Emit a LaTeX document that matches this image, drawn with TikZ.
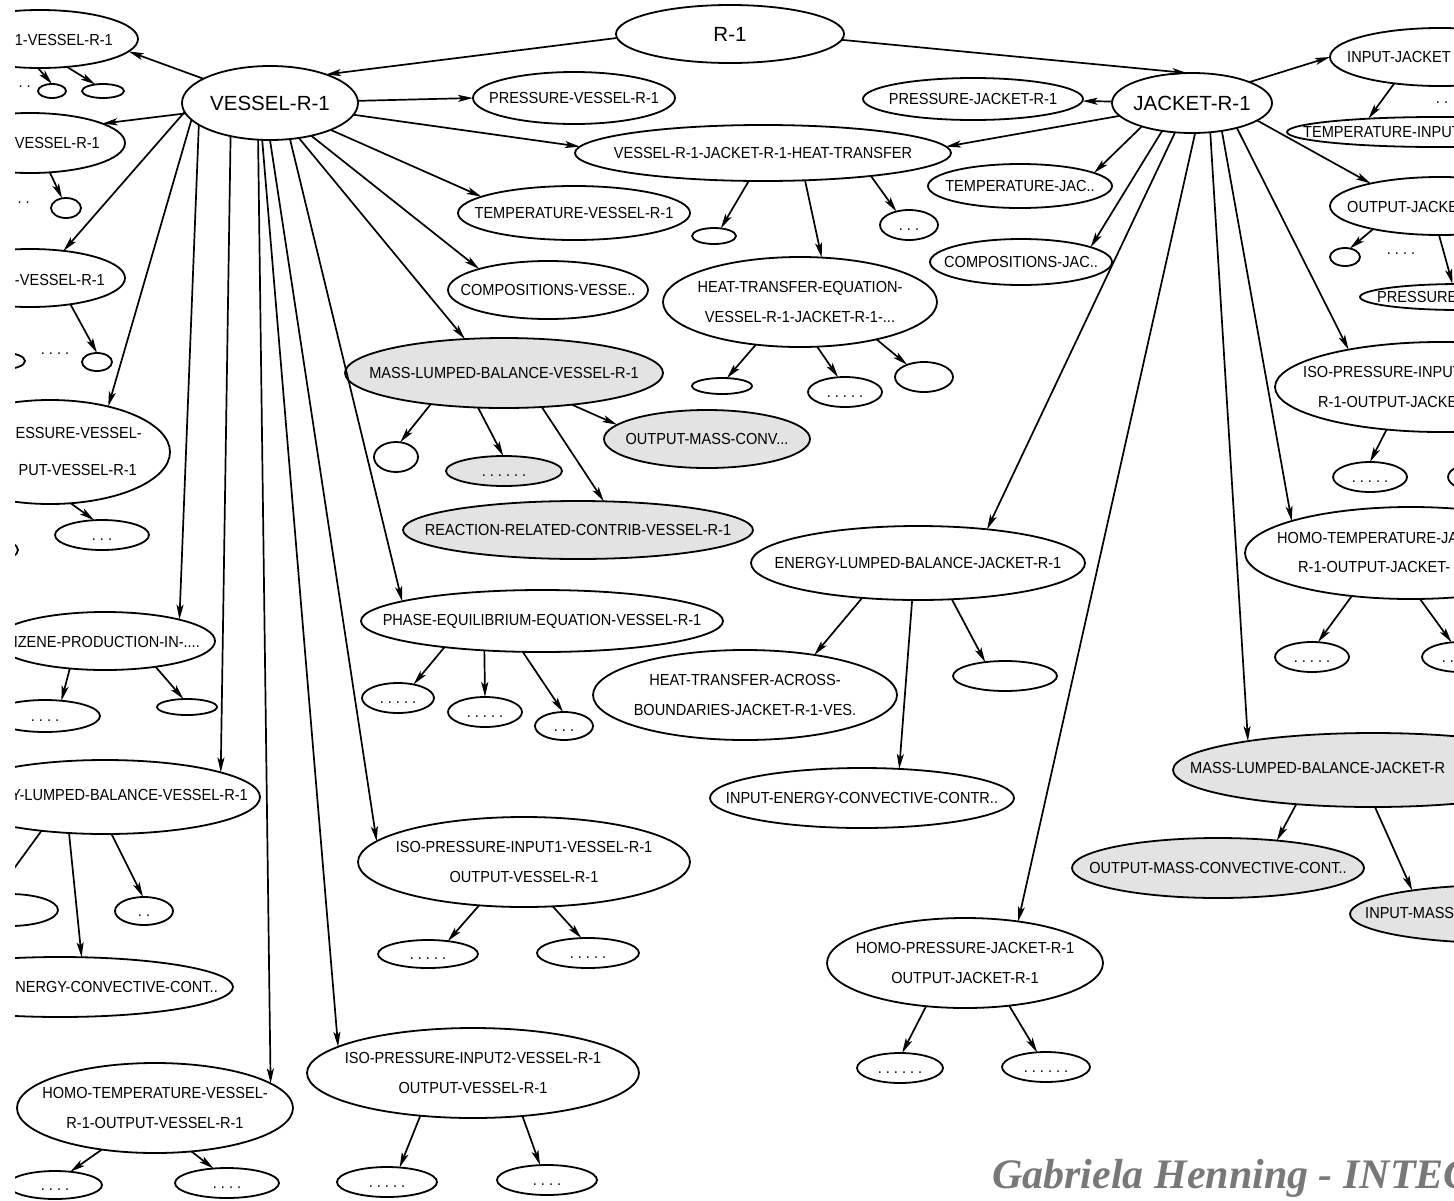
\documentclass[tikz,border=0pt]{standalone}
\usepackage{fontspec}
\setmainfont{Liberation Sans}[FakeStretch=0.91]
\newfontfamily\hdfamily{Liberation Sans}
\newfontfamily\creditfont{Liberation Serif}
\usetikzlibrary{shapes.geometric,arrows.meta}
\newcommand\lblfont{\fontsize{16pt}{30pt}\selectfont}
\newcommand\hdfont{\hdfamily\fontsize{20.5pt}{24pt}\selectfont}
\definecolor{dotgray}{gray}{0.89}
\definecolor{creditgray}{gray}{0.47}
\frenchspacing
\begin{document}
\begin{tikzpicture}[x=1pt,y=-1pt,
  ov/.style={ellipse, draw=black, line width=1.8pt, inner sep=0pt, outer sep=0pt, fill=white},
  dotfill/.style={fill=dotgray},
  sz/.style 2 args={minimum width=#1pt, minimum height=#2pt},
  lbl/.style={font=\lblfont, inner sep=0pt, align=center},
  hd/.style={font=\hdfont, inner sep=0pt},
  arr/.style={line width=1.7pt, -{Stealth[length=15pt, width=7pt, inset=3.5pt]}}]
\fill[white] (0,0) rectangle (1454,1200);
\useasboundingbox (0,0) rectangle (1454,1200);
\clip (15,0) rectangle (1454,1200);

% ---------- root and the two units ----------
\node[ov,sz={228}{58}] (R1) at (730,34) {};
\node[hd] (R1t) at (R1) {R-1};
\node[ov,sz={176}{74}] (V) at (270,103) {};
\node[hd] (Vt) at (V) {VESSEL-R-1};
\node[ov,sz={160}{60}] (J) at (1192,103) {};
\node[hd] (Jt) at (J) {JACKET-R-1};

% ---------- vessel: left column ----------
\node[ov,sz={196}{58}] (A) at (40,39) {};
\node[lbl,anchor=east] (At) at (113,40) {1-VESSEL-R-1};
\node[ov,sz={28}{14}] (a1) at (52,91) {};
\node[ov,sz={42}{14}] (a2) at (103,91) {};
\node[lbl,anchor=east] (adots) at (31,87) {. .};
\node[ov,sz={190}{60}] (B) at (30,143) {};
\node[lbl,anchor=east] (Bt) at (100,143) {VESSEL-R-1};
\node[ov,sz={30}{20}] (b1) at (66,208) {};
\node[lbl,anchor=east] (bdots) at (30,203) {. .};
\node[ov,sz={190}{58}] (C) at (30,278) {};
\node[lbl,anchor=east] (Ct) at (105,280) {-VESSEL-R-1};
\node[ov,sz={40}{16}] (c0) at (5,361) {};
\node[lbl] (cdots) at (55,354) {. . . .};
\node[ov,sz={30}{18}] (c1) at (97,362) {};
\node[ov,sz={240}{104}] (D) at (50,452) {};
\node[lbl,anchor=east] (Dt1) at (142,433) {RESSURE-VESSEL-};
\node[lbl,anchor=east] (Dt2) at (137,470) {PUT-VESSEL-R-1};
\node[ov,sz={36}{18}] (d0) at (0,550) {};
\node[ov,sz={94}{30}] (d1) at (102,535) {};
\node[lbl] (d1t) at (d1) {\vphantom{A}. . .};
\node[ov,sz={220}{58}] (E) at (105,641) {};
\node[lbl,anchor=east] (Et) at (200,642) {IZENE-PRODUCTION-IN-....};
\node[ov,sz={110}{32}] (e1) at (45,716) {};
\node[lbl] (e1t) at (e1) {\vphantom{A}. . . .};
\node[ov,sz={60}{16}] (e2) at (187,707) {};
\node[ov,sz={310}{74}] (F) at (105,797) {};
\node[lbl,anchor=east] (Ft) at (248,795) {Y-LUMPED-BALANCE-VESSEL-R-1};
\node[ov,sz={96}{32}] (f0) at (10,910) {};
\node[ov,sz={58}{28}] (f1) at (144,911) {};
\node[lbl] (f1t) at (f1) {\vphantom{A}. .};
\node[ov,sz={346}{60}] (G) at (60,987) {};
\node[lbl,anchor=east] (Gt) at (218,987) {ENERGY-CONVECTIVE-CONT..};
\node[ov,sz={276}{90}] (H) at (155,1108) {};
\node[lbl] (Ht) at (H) {HOMO-TEMPERATURE-VESSEL-\\R-1-OUTPUT-VESSEL-R-1};
\node[ov,sz={94}{28}] (h1) at (55,1185) {};
\node[lbl] (h1t) at (h1) {\vphantom{A}. . . .};
\node[ov,sz={104}{30}] (h2) at (227,1183) {};
\node[lbl] (h2t) at (h2) {\vphantom{A}. . . .};

% ---------- vessel: middle ----------
\node[ov,sz={202}{52}] (PV) at (574,98) {};
\node[lbl] (PVt) at (PV) {PRESSURE-VESSEL-R-1};
\node[ov,sz={376}{56}] (HT) at (763,153) {};
\node[lbl] (HTt) at (HT) {VESSEL-R-1-JACKET-R-1-HEAT-TRANSFER};
\node[ov,sz={232}{54}] (TV) at (574,213) {};
\node[lbl] (TVt) at (TV) {TEMPERATURE-VESSEL-R-1};
\node[ov,sz={200}{58}] (CV) at (548,290) {};
\node[lbl] (CVt) at (CV) {COMPOSITIONS-VESSE..};
\node[ov,sz={44}{16}] (ht1) at (714,236) {};
\node[ov,sz={58}{30}] (ht2) at (909,225) {};
\node[lbl] (ht2t) at (ht2) {\vphantom{A}. . .};
\node[ov,sz={274}{90}] (HE) at (800,302) {};
\node[lbl] (HEt) at (HE) {HEAT-TRANSFER-EQUATION-\\VESSEL-R-1-JACKET-R-1-...};
\node[ov,sz={60}{16}] (he1) at (722,386) {};
\node[ov,sz={74}{30}] (he2) at (845,392) {};
\node[lbl] (he2t) at (he2) {\vphantom{A}. . . . .};
\node[ov,sz={58}{30}] (he3) at (924,377) {};
\node[ov,dotfill,sz={318}{70}] (ML) at (504,373) {};
\node[lbl] (MLt) at (ML) {MASS-LUMPED-BALANCE-VESSEL-R-1};
\node[ov,sz={44}{30}] (ml1) at (396,457) {};
\node[ov,dotfill,sz={116}{30}] (ml2) at (504,471) {};
\node[lbl] (ml2t) at (ml2) {\vphantom{A}. . . . . .};
\node[ov,dotfill,sz={206}{58}] (ml3) at (707,439) {};
\node[lbl] (ml3t) at (ml3) {OUTPUT-MASS-CONV...};
\node[ov,dotfill,sz={350}{58}] (ml4) at (578,530) {};
\node[lbl] (ml4t) at (ml4) {REACTION-RELATED-CONTRIB-VESSEL-R-1};
\node[ov,sz={362}{62}] (PH) at (542,621) {};
\node[lbl] (PHt) at (PH) {PHASE-EQUILIBRIUM-EQUATION-VESSEL-R-1};
\node[ov,sz={72}{30}] (ph1) at (398,698) {};
\node[lbl] (ph1t) at (ph1) {\vphantom{A}. . . . .};
\node[ov,sz={74}{30}] (ph2) at (485,712) {};
\node[lbl] (ph2t) at (ph2) {\vphantom{A}. . . . .};
\node[ov,sz={58}{28}] (ph3) at (564,726) {};
\node[lbl] (ph3t) at (ph3) {\vphantom{A}. . .};
\node[ov,sz={332}{90}] (I1) at (524,862) {};
\node[lbl] (I1t) at (I1) {ISO-PRESSURE-INPUT1-VESSEL-R-1\\OUTPUT-VESSEL-R-1};
\node[ov,sz={100}{28}] (i1a) at (428,954) {};
\node[lbl] (i1at) at (i1a) {\vphantom{A}. . . . .};
\node[ov,sz={102}{30}] (i1b) at (588,953) {};
\node[lbl] (i1bt) at (i1b) {\vphantom{A}. . . . .};
\node[ov,sz={332}{90}] (I2) at (473,1073) {};
\node[lbl] (I2t) at (I2) {ISO-PRESSURE-INPUT2-VESSEL-R-1\\OUTPUT-VESSEL-R-1};
\node[ov,sz={100}{30}] (i2a) at (387,1182) {};
\node[lbl] (i2at) at (i2a) {\vphantom{A}. . . . .};
\node[ov,sz={100}{30}] (i2b) at (547,1180) {};
\node[lbl] (i2bt) at (i2b) {\vphantom{A}. . . .};

% ---------- jacket ----------
\node[ov,sz={220}{42}] (PJ) at (973,99) {};
\node[lbl] (PJt) at (PJ) {PRESSURE-JACKET-R-1};
\node[ov,sz={184}{44}] (TJ) at (1020,186) {};
\node[lbl] (TJt) at (TJ) {TEMPERATURE-JAC..};
\node[ov,sz={182}{46}] (CJ) at (1021,262) {};
\node[lbl] (CJt) at (CJ) {COMPOSITIONS-JAC..};
\node[ov,sz={220}{58}] (IJ) at (1440,57) {};
\node[lbl,anchor=west] (IJt) at (1347,57) {INPUT-JACKET};
\node[lbl] (ijdots) at (1442,103) {. .};
\node[ov,sz={300}{30}] (TI) at (1437,132) {};
\node[lbl,anchor=west] (TIt) at (1303,132) {TEMPERATURE-INPUT};
\node[ov,sz={220}{58}] (OJ) at (1440,206) {};
\node[lbl,anchor=west] (OJt) at (1347,207) {OUTPUT-JACKE};
\node[ov,sz={30}{18}] (oj1) at (1345,257) {};
\node[lbl] (ojdots) at (1401,254) {. . . .};
\node[ov,sz={200}{26}] (PR) at (1460,297) {};
\node[lbl,anchor=west] (PRt) at (1377,297) {PRESSURE};
\node[ov,sz={332}{90}] (IPJ) at (1441,387) {};
\node[lbl,anchor=west] (IPJt1) at (1303,372) {ISO-PRESSURE-INPUT};
\node[lbl,anchor=west] (IPJt2) at (1318,402) {R-1-OUTPUT-JACKE};
\node[ov,sz={74}{30}] (ipj1) at (1370,477) {};
\node[lbl] (ipj1t) at (ipj1) {\vphantom{A}. . . . .};
\node[ov,sz={70}{30}] (ipj2) at (1483,477) {};
\node[ov,sz={332}{92}] (HTJ) at (1411,553) {};
\node[lbl,anchor=west] (HTJt1) at (1277,538) {HOMO-TEMPERATURE-JA};
\node[lbl,anchor=west] (HTJt2) at (1298,567) {R-1-OUTPUT-JACKET-};
\node[ov,sz={74}{30}] (htj1) at (1312,657) {};
\node[lbl] (htj1t) at (htj1) {\vphantom{A}. . . . .};
\node[ov,sz={76}{30}] (htj2) at (1460,657) {};
\node[lbl] (htj2t) at (htj2) {\vphantom{A}. . . . .};
\node[ov,sz={334}{74}] (EL) at (918,563) {};
\node[lbl] (ELt) at (EL) {ENERGY-LUMPED-BALANCE-JACKET-R-1};
\node[ov,sz={304}{90}] (el1) at (745,695) {};
\node[lbl] (el1t) at (el1) {HEAT-TRANSFER-ACROSS-\\BOUNDARIES-JACKET-R-1-VES.};
\node[ov,sz={304}{60}] (el2) at (862,798) {};
\node[lbl] (el2t) at (el2) {INPUT-ENERGY-CONVECTIVE-CONTR..};
\node[ov,sz={104}{30}] (el3) at (1005,676) {};
\node[ov,dotfill,sz={400}{74}] (MJ) at (1373,770) {};
\node[lbl,anchor=west] (MJt) at (1190,768) {MASS-LUMPED-BALANCE-JACKET-R};
\node[ov,dotfill,sz={292}{60}] (mj1) at (1218,868) {};
\node[lbl] (mj1t) at (mj1) {OUTPUT-MASS-CONVECTIVE-CONT..};
\node[ov,dotfill,sz={300}{58}] (mj2) at (1500,914) {};
\node[lbl,anchor=west] (mj2t) at (1365,913) {INPUT-MASS-};
\node[ov,sz={276}{90}] (HP) at (965,963) {};
\node[lbl] (HPt) at (HP) {HOMO-PRESSURE-JACKET-R-1\\OUTPUT-JACKET-R-1};
\node[ov,sz={86}{30}] (hp1) at (900,1068) {};
\node[lbl] (hp1t) at (hp1) {\vphantom{A}. . . . . .};
\node[ov,sz={88}{30}] (hp2) at (1046,1067) {};
\node[lbl] (hp2t) at (hp2) {\vphantom{A}. . . . . .};

% ---------- connectors ----------
\draw[arr] (R1.182) -- (V.27);
\draw[arr] (R1.357) -- (J.99);

\draw[arr] (V) -- (A.-8);
\draw[arr] (V) -- (B.15);
\draw[arr] (V.186) -- (C.39);
\draw[arr] (V.192) -- (D.38);
\draw[arr] (V.197) -- (E.16);
\draw[arr] (V.220) -- (F.12);
\draw[arr] (V.252) -- (H.12);
\draw[arr] (V.258) -- (I2.169);
\draw[arr] (V.270) -- (I1.172);
\draw[arr] (V.299) -- (PH.172);
\draw[arr] (V) -- (ML.139);
\draw[arr] (V) -- (CV.163);
\draw[arr] (V) -- (TV.170);
\draw[arr] (V) -- (HT.178);
\draw[arr] (V) -- (PV.180);

\draw[arr] (J) -- (PJ);
\draw[arr] (J) -- (HT.2);
\draw[arr] (J.205) -- (TJ.10);
\draw[arr] (J.223) -- (CJ.12);
\draw[arr] (J.240) -- (EL.26);
\draw[arr] (J.276) -- (HP.38);
\draw[arr] (J.302) -- (MJ.167);
\draw[arr] (J.317) -- (HTJ.165);
\draw[arr] (J.331) -- (IPJ.158);
\draw[arr] (J.345) -- (OJ.162);
\draw[arr] (J.20) -- (IJ.180);

\draw[arr] (A.266) -- (a1.90);
\draw[arr] (A.314) -- (a2.139);
\draw[arr] (B.304) -- (b1.112);
\draw[arr] (C.327) -- (c1.90);
\draw[arr] (D.292) -- (d1.118);
\draw[arr] (E.218) -- (e1.43);
\draw[arr] (E.333) -- (e2.114);
\draw[arr] (F.208) -- (f0.135);
\draw[arr] (F.280) -- (f1.94);
\draw[arr] (F.225) -- (G.54);
\draw[arr] (H.218) -- (h1.41);
\draw[arr] (H.310) -- (h2.133);
\draw[arr] (I2.219) -- (i2a.49);
\draw[arr] (I2.319) -- (i2b.115);
\draw[arr] (I1.224) -- (i1a.33);
\draw[arr] (I1.303) -- (i1b.114);
\draw[arr] (PH.195) -- (ph1.41);
\draw[arr] (PH.207) -- (ph2.90);
\draw[arr] (PH.238) -- (ph3.94);
\draw[arr] (ML.203) -- (ml1.74);
\draw[arr] (ML.233) -- (ml2.93);
\draw[arr] (ML.335) -- (ml3.171);
\draw[arr] (ML.318) -- (ml4.48);
\draw[arr] (HT.243) -- (ht1.48);
\draw[arr] (HT.327) -- (HE.64);
\draw[arr] (HT.348) -- (ht2.133);
\draw[arr] (HE.224) -- (he1.58);
\draw[arr] (HE.291) -- (he2.115);
\draw[arr] (HE.334) -- (he3.144);

\draw[arr] (IJ.210) -- (TI.169);
\draw[arr] (OJ.199) -- (oj1.60);
\draw[arr] (OJ.268) -- (PR.120);
\draw[arr] (IPJ.218) -- (ipj1.90);
\draw[arr] (HTJ.216) -- (htj1.68);
\draw[arr] (HTJ.281) -- (htj2.120);
\draw[arr] (EL.212) -- (el1.30);
\draw[arr] (EL.261) -- (el2.38);
\draw[arr] (EL.313) -- (el3.145);
\draw[arr] (MJ.204) -- (mj1.25);
\draw[arr] (MJ.273) -- (mj2.165);
\draw[arr] (HP.228) -- (hp1.82);
\draw[arr] (HP.316) -- (hp2.121);

% ---------- credit line ----------
\node[anchor=base west, inner sep=0pt, text=creditgray,
      font=\creditfont\bfseries\itshape\fontsize{42pt}{44pt}\selectfont]
  (credit) at (992,1188) {Gabriela Henning - INTEC};
\end{tikzpicture}
\end{document}
